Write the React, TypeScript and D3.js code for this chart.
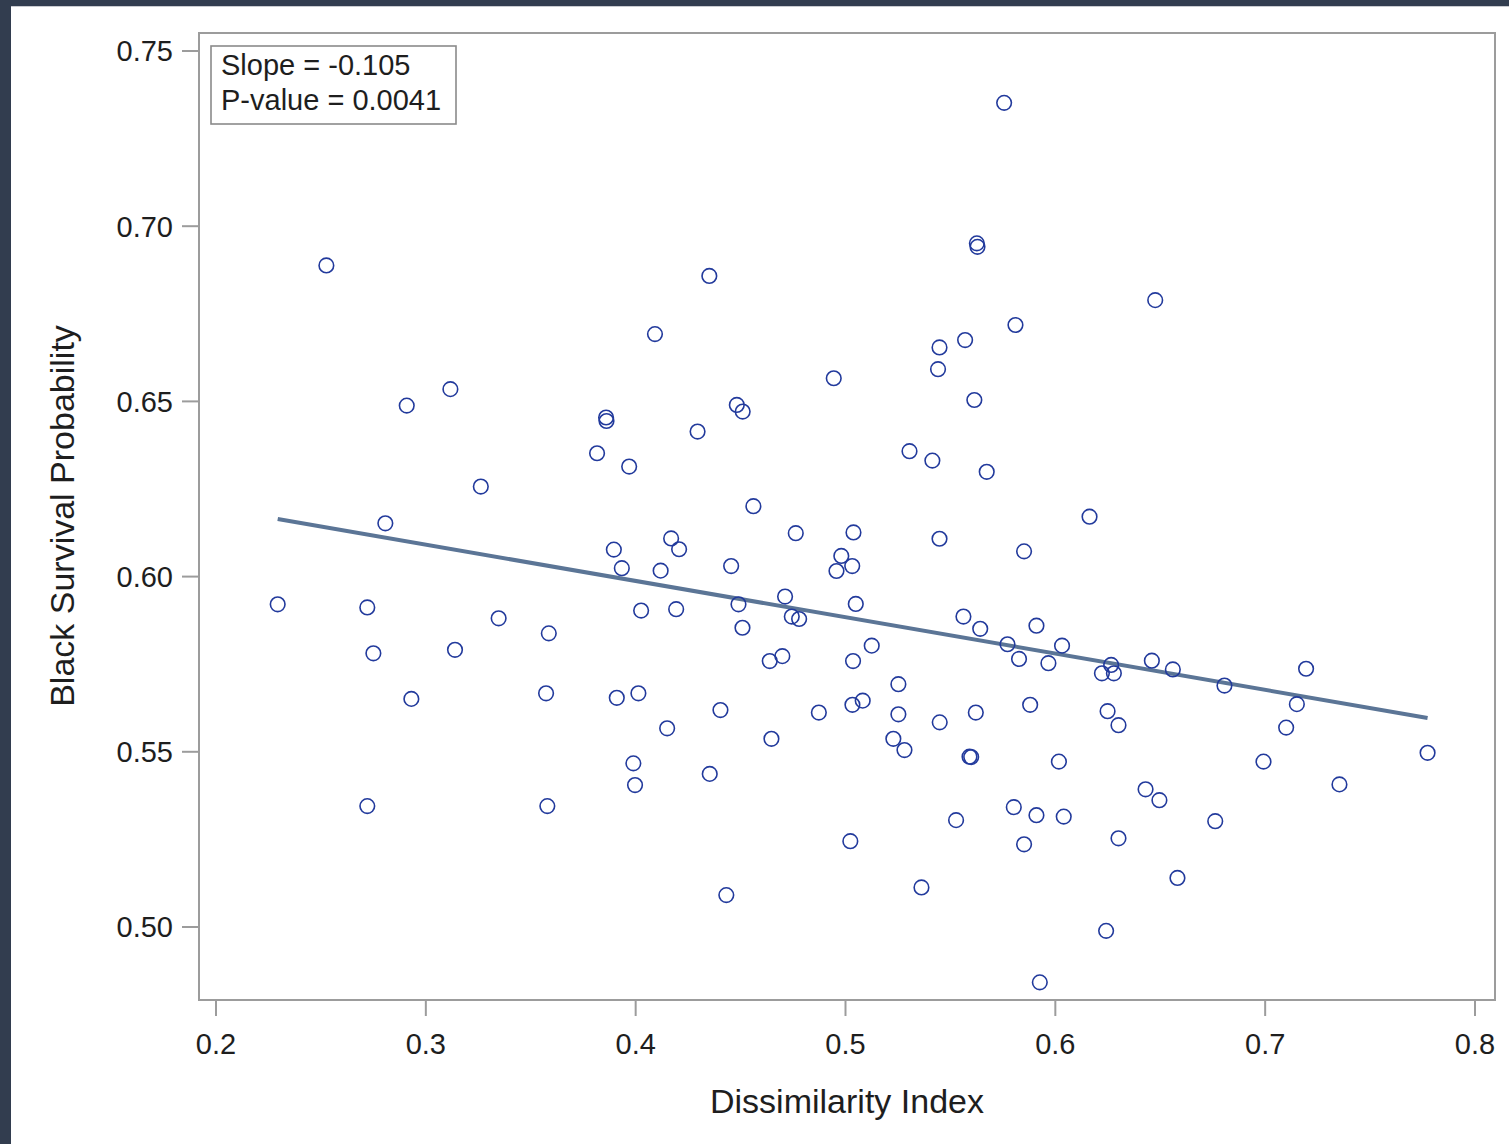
import React from "react";
import * as d3 from "d3";

// Dissimilarity Index (x) and Black Survival Probability (y)
const dissimilarity: number[] = [
  0.2526, 0.2294, 0.2807, 0.2909, 0.3117, 0.2721, 0.2750, 0.2931, 0.2721, 0.3139,
  0.3347, 0.3262, 0.3586, 0.3573, 0.3579, 0.3859, 0.3861, 0.3816, 0.3969, 0.3896,
  0.3934, 0.3910, 0.4026, 0.4013, 0.3989, 0.3997, 0.4092, 0.4351, 0.4295, 0.4482,
  0.4510, 0.4119, 0.4169, 0.4207, 0.4193, 0.4150, 0.4353, 0.4432, 0.4561, 0.4455,
  0.4490, 0.4509, 0.4404, 0.4639, 0.4699, 0.4647, 0.4712, 0.4763, 0.4744, 0.4779,
  0.4873, 0.4944, 0.4980, 0.4957, 0.5032, 0.5038, 0.5049, 0.5036, 0.5125, 0.5033,
  0.5082, 0.5023, 0.5305, 0.5414, 0.5448, 0.5441, 0.5570, 0.5614, 0.5626, 0.5629,
  0.5673, 0.5448, 0.5562, 0.5642, 0.5252, 0.5252, 0.5228, 0.5281, 0.5449, 0.5621,
  0.5591, 0.5599, 0.5527, 0.5362, 0.5756, 0.5810, 0.5851, 0.5772, 0.5827, 0.5910,
  0.5967, 0.6032, 0.5880, 0.6017, 0.5802, 0.5910, 0.6040, 0.5851, 0.5926, 0.6163,
  0.6222, 0.6266, 0.6279, 0.6249, 0.6301, 0.6301, 0.6242, 0.6460, 0.6560, 0.6476,
  0.6430, 0.6496, 0.6582, 0.6762, 0.6806, 0.6992, 0.7100, 0.7151, 0.7195, 0.7354,
  0.7774,
];
const survival: number[] = [
  0.6888, 0.5921, 0.6152, 0.6488, 0.6535, 0.5912, 0.5781, 0.5651, 0.5345, 0.5791,
  0.5881, 0.6257, 0.5838, 0.5667, 0.5345, 0.6454, 0.6444, 0.6352, 0.6314, 0.6077,
  0.6024, 0.5654, 0.5903, 0.5667, 0.5467, 0.5405, 0.6692, 0.6858, 0.6414, 0.6490,
  0.6471, 0.6017, 0.6109, 0.6078, 0.5907, 0.5567, 0.5437, 0.5091, 0.6201, 0.6030,
  0.5921, 0.5854, 0.5619, 0.5759, 0.5773, 0.5537, 0.5943, 0.6124, 0.5886, 0.5879,
  0.5612, 0.6566, 0.6059, 0.6016, 0.6030, 0.6126, 0.5922, 0.5759, 0.5803, 0.5634,
  0.5646, 0.5245, 0.6358, 0.6331, 0.6654, 0.6592, 0.6675, 0.6504, 0.6951, 0.6941,
  0.6299, 0.6108, 0.5886, 0.5851, 0.5693, 0.5607, 0.5537, 0.5505, 0.5584, 0.5612,
  0.5486, 0.5485, 0.5305, 0.5113, 0.7352, 0.6718, 0.6072, 0.5807, 0.5765, 0.5860,
  0.5753, 0.5803, 0.5634, 0.5472, 0.5342, 0.5319, 0.5315, 0.5236, 0.4842, 0.6171,
  0.5724, 0.5748, 0.5724, 0.5616, 0.5576, 0.5253, 0.4989, 0.5760, 0.5735, 0.6789,
  0.5393, 0.5362, 0.5140, 0.5302, 0.5689, 0.5472, 0.5569, 0.5636, 0.5737, 0.5407,
  0.5497,
];

// Fitted regression line as drawn
const fitIntercept = 0.6402;
const fitSlope = -0.1036;

const xTicks: number[] = [0.2, 0.3, 0.4, 0.5, 0.6, 0.7, 0.8];
const yTicks: number[] = [0.5, 0.55, 0.6, 0.65, 0.7, 0.75];
const statsLines: string[] = ["Slope = -0.105", "P-value = 0.0041"];
const xTitle = "Dissimilarity Index";
const yTitle = "Black Survival Probability";

const W = 1509;
const H = 1144;
const FRAME = { left: 199, right: 1495, top: 33, bottom: 1000 };
const FONT = "'Liberation Sans', Arial, sans-serif";

export default function App() {
  const x = d3.scaleLinear().domain([0.2, 0.8]).range([216, 1475]);
  const y = d3.scaleLinear().domain([0.5, 0.75]).range([927, 51]);

  const [xmin, xmax] = d3.extent(dissimilarity) as [number, number];
  const lineGen = d3
    .line<number>()
    .x((d) => x(d))
    .y((d) => y(fitIntercept + fitSlope * d));

  const frameColor = "#9c9c9c";
  const textColor = "#1e1e1e";

  return (
    <div style={{ position: "absolute", left: 0, top: 0 }}>
      <svg width={W} height={H} style={{ display: "block", background: "#fff" }}>
        {/* dark page borders */}
        <rect x={0} y={0} width={W} height={6} fill="#323d4f" />
        <line x1={0} x2={W} y1={6.5} y2={6.5} stroke="#c9cbd0" strokeWidth={1} />
        <rect x={0} y={0} width={11} height={H} fill="#323d4f" />

        {/* frame */}
        <rect
          x={FRAME.left}
          y={FRAME.top}
          width={FRAME.right - FRAME.left}
          height={FRAME.bottom - FRAME.top}
          fill="none"
          stroke={frameColor}
          strokeWidth={2}
        />

        {/* y ticks */}
        {yTicks.map((t) => (
          <g key={"y" + t}>
            <line x1={182} x2={FRAME.left} y1={y(t)} y2={y(t)} stroke={frameColor} strokeWidth={2} />
            <text
              x={173}
              y={y(t)}
              dy="0.36em"
              textAnchor="end"
              fontFamily={FONT}
              fontSize={29}
              fill={textColor}
            >
              {d3.format(".2f")(t)}
            </text>
          </g>
        ))}

        {/* x ticks */}
        {xTicks.map((t) => (
          <g key={"x" + t}>
            <line x1={x(t)} x2={x(t)} y1={FRAME.bottom} y2={1016} stroke={frameColor} strokeWidth={2} />
            <text
              x={x(t)}
              y={1054}
              textAnchor="middle"
              fontFamily={FONT}
              fontSize={29}
              fill={textColor}
            >
              {d3.format(".1f")(t)}
            </text>
          </g>
        ))}

        {/* axis titles */}
        <text x={847} y={1113} textAnchor="middle" fontFamily={FONT} fontSize={34} fill={textColor}>
          {xTitle}
        </text>
        <text
          transform="translate(62,516) rotate(-90)"
          dy="0.36em"
          textAnchor="middle"
          fontFamily={FONT}
          fontSize={34}
          fill={textColor}
        >
          {yTitle}
        </text>

        {/* regression line */}
        <path d={lineGen([xmin, xmax]) || ""} fill="none" stroke="#5b7596" strokeWidth={4} />

        {/* points */}
        {dissimilarity.map((d, i) => (
          <circle
            key={i}
            cx={x(d)}
            cy={y(survival[i])}
            r={7.3}
            fill="none"
            stroke="#223a9c"
            strokeWidth={1.6}
          />
        ))}

        {/* stats box */}
        <rect x={211} y={46} width={245} height={78} fill="#fff" stroke="#8a8a8a" strokeWidth={1.6} />
        {statsLines.map((s, i) => (
          <text key={s} x={221} y={75 + i * 35} fontFamily={FONT} fontSize={29} fill={textColor}>
            {s}
          </text>
        ))}
      </svg>
    </div>
  );
}
